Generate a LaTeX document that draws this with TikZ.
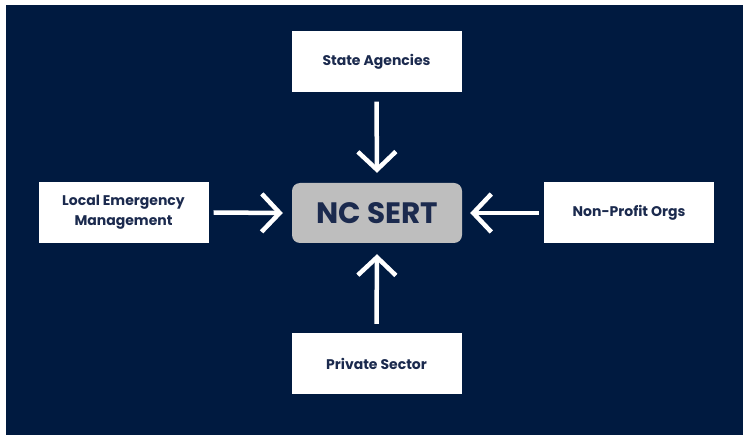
\documentclass[tikz,border=0pt]{standalone}
\usepackage{fontspec}
\setmainfont{Poppins}
\usetikzlibrary{arrows.meta}
\definecolor{navy}{HTML}{001A40}
\definecolor{ink}{HTML}{1B2A4E}
\definecolor{sertgray}{HTML}{BEBEBE}
\tikzset{
  box/.style={draw=none, fill=white, minimum width=170pt, minimum height=61pt, inner sep=0pt,
    align=center, text=ink, font=\bfseries\fontsize{14}{20}\selectfont},
  sertbox/.style={draw=none, fill=sertgray, rounded corners=8pt, minimum width=170pt, minimum height=60pt,
    inner sep=0pt, text=ink, font=\bfseries\fontsize{29.5}{30}\selectfont},
  flow/.style={draw=white, line width=4.5pt, -{Straight Barb[length=18pt, width=38pt, line width=4.5pt]}}
}
\begin{document}
\begin{tikzpicture}[x=1pt, y=-1pt]
  \fill[white] (0,0) rectangle (743,435);
  \fill[navy] (6,5) rectangle (743,435);
  \useasboundingbox (0,0) rectangle (743,435);
  \node[box] (state) at (376.5,62) {State Agencies};
  \node[box] (local) at (123.5,212.5) {Local Emergency\\Management};
  \node[box] (npo) at (629,213) {Non-Profit Orgs};
  \node[box] (priv) at (376.5,363.5) {Private Sector};
  \node[sertbox] (sert) at (377,213) {NC SERT};
  \draw[flow] ([yshift=-9pt]state.south) -- ([yshift=10pt]sert.north);
  \draw[flow] ([xshift=5pt]local.east) -- ([xshift=-9pt]sert.west);
  \draw[flow] ([xshift=-5pt]npo.west) -- ([xshift=8pt]sert.east);
  \draw[flow] ([yshift=9pt]priv.north) -- ([yshift=-11pt]sert.south);
\end{tikzpicture}
\end{document}
